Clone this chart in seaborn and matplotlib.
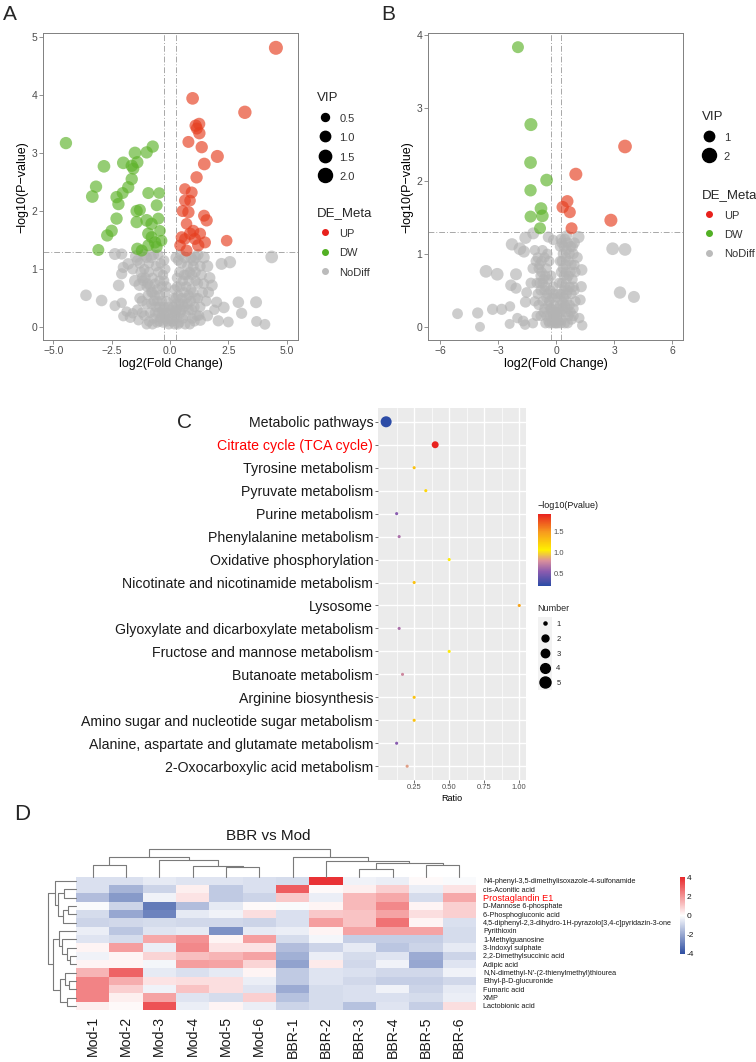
import numpy as np
import pandas as pd
import matplotlib
matplotlib.use("Agg")
import matplotlib.pyplot as plt
import seaborn as sns
from matplotlib.colors import LinearSegmentedColormap, Normalize
from matplotlib.cm import ScalarMappable
from matplotlib.lines import Line2D
from matplotlib.patches import Rectangle

# ---------------- data: panel A (log2FC, -log10 P, VIP) ----------------
a_up = [(4.54, 4.81, 2.0), (0.97, 3.94, 1.6), (3.21, 3.70, 1.8), (1.10, 3.47, 1.5), (1.25, 3.50, 1.5),
        (1.15, 3.42, 1.4), (1.26, 3.34, 1.5), (0.79, 3.19, 1.4), (1.36, 3.10, 1.5), (2.03, 2.94, 1.7),
        (1.47, 2.81, 1.6), (1.14, 2.58, 1.5), (0.64, 2.38, 1.3), (0.93, 2.32, 1.4), (0.64, 2.18, 1.4),
        (0.86, 2.18, 1.3), (0.54, 2.00, 1.4), (0.79, 1.98, 1.5), (1.46, 1.92, 1.4), (1.57, 1.84, 1.5),
        (0.71, 1.78, 1.3), (1.00, 1.66, 1.4), (0.86, 1.61, 1.5), (0.50, 1.55, 1.4), (1.29, 1.61, 1.4),
        (1.50, 1.46, 1.4), (2.43, 1.49, 1.3), (0.43, 1.41, 1.3), (0.71, 1.32, 1.4), (1.21, 1.41, 1.5),
        (0.64, 1.52, 1.3), (1.07, 1.52, 1.4)]
a_dw = [(-4.46, 3.17, 1.5), (-2.83, 2.77, 1.6), (-3.17, 2.42, 1.5), (-3.33, 2.25, 1.6), (-2.00, 2.83, 1.6),
        (-1.50, 3.00, 1.6), (-1.00, 3.01, 1.5), (-0.74, 3.11, 1.5), (-1.64, 2.78, 1.5), (-1.40, 2.84, 1.5),
        (-1.57, 2.73, 1.4), (-1.64, 2.55, 1.5), (-1.79, 2.41, 1.5), (-2.03, 2.31, 1.4), (-2.29, 2.24, 1.5),
        (-2.21, 2.12, 1.5), (-1.43, 2.00, 1.5), (-1.29, 2.02, 1.4), (-0.93, 2.31, 1.4), (-0.46, 2.31, 1.3),
        (-0.57, 2.10, 1.4), (-2.29, 1.87, 1.5), (-2.50, 1.66, 1.5), (-2.69, 1.58, 1.5), (-3.07, 1.33, 1.4),
        (-1.43, 1.81, 1.5), (-1.00, 1.84, 1.6), (-0.79, 1.78, 1.5), (-0.50, 1.87, 1.4), (-0.93, 1.61, 1.5),
        (-0.43, 1.66, 1.3), (-0.79, 1.55, 1.4), (-0.64, 1.46, 1.5), (-0.36, 1.49, 1.3), (-1.40, 1.35, 1.5),
        (-1.21, 1.32, 1.4), (-0.57, 1.38, 1.4), (-0.93, 1.41, 1.4)]
a_nd = [(4.36, 1.21, 1.6), (-3.60, 0.55, 1.3), (-2.93, 0.46, 1.3), (3.69, 0.43, 1.4), (2.93, 0.43, 1.3),
        (3.07, 0.24, 1.2), (3.71, 0.10, 1.1), (4.07, 0.05, 1.1), (2.50, 0.09, 1.1), (2.07, 0.11, 1.2),
        (2.57, 1.12, 1.5), (2.21, 1.09, 1.4), (2.31, 0.34, 1.3), (2.00, 0.43, 1.2), (-2.36, 1.26, 1.4),
        (-2.07, 1.26, 1.2), (-1.79, 1.09, 1.3), (-2.00, 1.03, 1.2), (-2.07, 0.92, 1.2), (-2.20, 0.72, 1.3),
        (-2.36, 0.37, 1.1), (-2.07, 0.42, 1.0), (-1.86, 0.27, 1.0), (-1.60, 0.24, 1.0), (-1.70, 0.17, 1.2),
        (-1.35, 0.12, 1.0), (-2.00, 0.19, 1.0), (-1.50, 0.80, 1.4), (-1.30, 0.73, 1.5), (-1.20, 0.45, 1.1),
        (-1.00, 0.40, 1.0), (-1.10, 0.20, 1.0), (-0.95, 0.55, 1.0), (1.60, 1.05, 1.4), (1.70, 0.85, 1.3),
        (1.80, 0.72, 1.3), (1.65, 0.60, 1.2), (1.55, 0.45, 1.1), (1.30, 0.35, 1.0), (1.60, 0.20, 1.3),
        (1.30, 0.12, 1.2), (1.15, 0.20, 1.1), (1.90, 0.30, 1.0), (1.45, 1.20, 1.4), (1.00, 1.15, 1.2),
        (0.65, 1.20, 1.3), (-0.80, 1.20, 1.2), (-1.10, 1.25, 1.3), (-1.45, 1.22, 1.5), (-1.60, 1.00, 1.1),
        (-0.50, 1.25, 1.0), (-1.30, 1.10, 1.1), (-1.10, 1.00, 1.0), (-0.90, 0.95, 1.0), (-0.75, 0.85, 1.0),
        (-0.65, 0.75, 1.0), (-0.55, 0.65, 1.0), (-0.45, 0.55, 1.0), (-0.35, 0.45, 1.0), (-0.25, 0.35, 1.0),
        (-0.15, 0.25, 1.0), (-0.60, 1.05, 1.0), (-0.40, 1.10, 1.0), (-0.30, 0.90, 1.0), (-0.35, 0.70, 1.0),
        (-0.20, 0.60, 1.0), (-0.15, 0.45, 1.0), (-0.80, 0.60, 1.0), (-0.70, 0.45, 1.0), (-0.60, 0.35, 1.0),
        (-0.50, 0.25, 1.0), (-0.40, 0.15, 1.0), (-0.30, 0.08, 1.0), (-0.85, 0.25, 1.0), (-0.70, 0.15, 1.0),
        (-0.55, 0.08, 1.0), (-0.20, 0.15, 1.0), (-0.10, 0.10, 1.0), (-0.05, 0.05, 1.0), (-1.20, 0.85, 1.0),
        (-1.00, 0.70, 1.0), (-0.25, 1.15, 1.0), (1.30, 1.05, 1.1), (1.10, 0.95, 1.0), (0.95, 0.90, 1.0),
        (0.80, 0.80, 1.0), (0.70, 0.70, 1.0), (0.60, 0.60, 1.0), (0.50, 0.50, 1.0), (0.40, 0.40, 1.0),
        (0.30, 0.30, 1.0), (0.20, 0.20, 1.0), (0.10, 0.10, 1.0), (0.35, 1.15, 1.0), (0.40, 0.95, 1.0),
        (0.30, 0.70, 1.0), (0.25, 0.50, 1.0), (0.50, 1.10, 1.0), (0.60, 0.90, 1.0), (0.75, 1.05, 1.1),
        (0.90, 1.20, 1.2), (1.10, 1.20, 1.2), (1.20, 0.75, 1.0), (1.00, 0.60, 1.0), (0.90, 0.45, 1.0),
        (0.80, 0.30, 1.0), (0.70, 0.20, 1.0), (0.55, 0.15, 1.0), (0.40, 0.08, 1.0), (1.05, 0.35, 1.0),
        (0.95, 0.15, 1.0), (0.20, 0.05, 1.0), (0.60, 0.35, 1.0), (0.45, 0.25, 1.0), (0.30, 0.15, 1.0),
        (0.15, 0.35, 1.0), (0.80, 0.55, 1.0), (1.20, 0.50, 1.0), (0.10, 0.25, 1.0), (0.00, 0.15, 1.0),
        (0.05, 0.30, 1.0), (-0.05, 0.35, 1.0),
        (-1.40, 1.15, 1.1), (-1.25, 0.95, 1.1), (-1.15, 0.80, 1.0), (-1.05, 0.85, 1.0), (-0.95, 0.75, 1.0),
        (-0.85, 0.70, 1.0), (-0.75, 0.60, 1.0), (-0.65, 0.55, 1.0), (-0.55, 0.45, 1.0), (-0.45, 0.35, 1.0),
        (-0.35, 0.25, 1.0), (-0.25, 0.20, 1.0), (-0.90, 0.10, 1.0), (-0.80, 0.40, 1.0), (-0.65, 0.25, 1.0),
        (-0.45, 0.10, 1.0), (-0.30, 0.30, 1.0), (-1.00, 1.20, 1.1), (-0.70, 1.25, 1.1), (-0.90, 1.10, 1.0),
        (-0.50, 0.95, 1.0), (-0.45, 0.80, 1.0), (-0.25, 0.80, 1.0), (-0.20, 1.00, 1.0), (-0.15, 0.70, 1.0),
        (-1.30, 0.50, 1.1), (-1.40, 0.30, 1.1), (-1.20, 0.25, 1.0), (-1.00, 0.05, 1.0), (-0.75, 0.05, 1.0),
        (0.25, 1.20, 1.1), (0.45, 1.25, 1.1), (0.30, 0.85, 1.0), (0.20, 0.65, 1.0), (0.35, 0.55, 1.0),
        (0.45, 0.70, 1.0), (0.55, 0.80, 1.0), (0.70, 0.90, 1.0), (0.85, 0.95, 1.0), (1.00, 1.05, 1.1),
        (1.20, 1.25, 1.2), (1.35, 0.90, 1.1), (1.10, 0.80, 1.0), (0.90, 0.65, 1.0), (0.70, 0.50, 1.0),
        (0.55, 0.40, 1.0), (0.75, 0.40, 1.0), (0.95, 0.30, 1.0), (1.10, 0.50, 1.0), (0.65, 0.05, 1.0),
        (0.85, 0.05, 1.0), (1.05, 0.10, 1.0), (0.25, 0.40, 1.0), (0.15, 0.50, 1.0), (0.35, 0.05, 1.0),
        (0.50, 0.30, 1.0), (0.25, 0.25, 1.0), (1.40, 0.60, 1.1), (1.45, 0.75, 1.1), (1.25, 0.20, 1.0)]

# ---------------- data: panel B ----------------
b_up = [(3.56, 2.47, 1.9), (1.02, 2.09, 1.7), (2.83, 1.46, 1.7), (0.58, 1.72, 1.5), (0.34, 1.64, 1.5),
        (0.71, 1.57, 1.4), (0.80, 1.35, 1.4)]
b_dw = [(-1.97, 3.83, 1.4), (-1.30, 2.77, 1.7), (-1.32, 2.25, 1.6), (-0.49, 2.01, 1.6), (-1.32, 1.87, 1.5),
        (-0.78, 1.62, 1.6), (-1.32, 1.51, 1.4), (-0.71, 1.52, 1.6), (-0.83, 1.35, 1.4)]
b_nd = [(2.92, 1.07, 1.6), (3.56, 1.06, 1.6), (3.30, 0.47, 1.5), (4.02, 0.41, 1.4), (-5.09, 0.18, 1.1),
        (-4.05, 0.19, 1.2), (-3.93, 0.00, 0.9), (-3.62, 0.76, 1.6), (-3.04, 0.72, 1.6), (-3.28, 0.24, 1.2),
        (-2.81, 0.24, 1.2), (-2.38, 0.28, 1.0), (-2.28, 1.13, 1.5), (-1.87, 1.07, 1.6), (-1.66, 1.03, 1.4),
        (-1.58, 1.22, 1.5), (-1.18, 1.28, 1.4), (-2.07, 0.72, 1.4), (-2.33, 0.57, 1.3), (-2.07, 0.53, 1.2),
        (-1.52, 0.47, 1.1), (-1.58, 0.34, 1.2), (-2.40, 0.04, 0.9), (-1.70, 0.08, 1.1), (-1.60, 0.03, 1.0),
        (-0.40, 1.23, 1.2), (-0.15, 1.19, 1.0), (1.15, 1.23, 1.5), (1.32, 0.78, 1.3), (1.30, 0.55, 1.2),
        (1.25, 0.37, 1.1), (1.20, 0.12, 1.0), (1.35, 0.02, 1.0), (1.10, 0.95, 1.1), (-1.30, 0.60, 1.1),
        (-1.00, 0.15, 1.0), (-1.20, 0.05, 1.0), (-2.00, 0.12, 1.0), (-1.10, 1.05, 1.0), (-0.95, 0.95, 1.0),
        (-0.85, 0.85, 1.0), (-0.75, 0.75, 1.0), (-0.65, 0.65, 1.0), (-0.55, 0.55, 1.0), (-0.45, 0.45, 1.0),
        (-0.35, 0.35, 1.0), (-0.25, 0.25, 1.0), (-0.15, 0.15, 1.0), (-0.05, 0.05, 1.0), (-0.60, 0.95, 1.0),
        (-0.50, 0.80, 1.0), (-0.40, 0.65, 1.0), (-0.30, 0.50, 1.0), (-0.20, 0.40, 1.0), (-0.80, 0.50, 1.0),
        (-0.70, 0.35, 1.0), (-0.60, 0.25, 1.0), (-0.50, 0.15, 1.0), (-0.40, 0.08, 1.0), (-0.90, 0.30, 1.0),
        (-0.80, 0.15, 1.0), (-0.30, 0.15, 1.0), (-0.20, 0.05, 1.0), (-0.70, 1.05, 1.0), (-0.35, 0.90, 1.0),
        (-1.00, 0.60, 1.0), (0.30, 1.15, 1.1), (0.45, 1.20, 1.1), (0.60, 1.15, 1.1), (0.75, 1.10, 1.1),
        (0.90, 1.00, 1.0), (0.35, 1.00, 1.0), (0.50, 0.95, 1.0), (0.65, 0.90, 1.0), (0.80, 0.85, 1.0),
        (0.35, 0.80, 1.0), (0.50, 0.75, 1.0), (0.65, 0.70, 1.0), (0.85, 0.65, 1.0), (0.30, 0.60, 1.0),
        (0.45, 0.55, 1.0), (0.60, 0.50, 1.0), (0.80, 0.45, 1.0), (0.25, 0.45, 1.0), (0.40, 0.40, 1.0),
        (0.55, 0.35, 1.0), (0.70, 0.30, 1.0), (0.90, 0.25, 1.0), (0.20, 0.30, 1.0), (0.35, 0.25, 1.0),
        (0.50, 0.20, 1.0), (0.65, 0.15, 1.0), (0.80, 0.10, 1.0), (0.15, 0.15, 1.0), (0.30, 0.10, 1.0),
        (0.45, 0.05, 1.0), (0.10, 0.05, 1.0), (0.00, 0.20, 1.0), (-0.10, 0.30, 1.0), (0.05, 0.40, 1.0),
        (0.95, 0.50, 1.0), (1.00, 0.75, 1.0), (0.20, 0.90, 1.0), (0.20, 1.10, 1.0),
        (-1.05, 0.90, 1.0), (-0.90, 0.80, 1.0), (-0.80, 0.70, 1.0), (-0.70, 0.60, 1.0), (-0.60, 0.50, 1.0),
        (-0.50, 0.40, 1.0), (-0.40, 0.30, 1.0), (-0.30, 0.25, 1.0), (-0.20, 0.20, 1.0), (-0.10, 0.10, 1.0),
        (-0.95, 0.45, 1.0), (-0.85, 0.60, 1.0), (-0.75, 0.90, 1.0), (-0.55, 0.70, 1.0), (-0.45, 1.00, 1.0),
        (-0.65, 0.20, 1.0), (-0.55, 0.05, 1.0), (-0.35, 0.05, 1.0), (-1.10, 0.35, 1.0), (-1.20, 0.80, 1.1),
        (-0.25, 0.70, 1.0), (-0.15, 0.55, 1.0), (-0.10, 0.45, 1.0),
        (0.25, 1.20, 1.1), (0.40, 1.10, 1.0), (0.55, 1.05, 1.0), (0.70, 1.00, 1.0), (0.85, 1.10, 1.1),
        (0.95, 0.85, 1.0), (0.75, 0.75, 1.0), (0.55, 0.65, 1.0), (0.40, 0.70, 1.0), (0.25, 0.75, 1.0),
        (0.30, 0.90, 1.0), (0.50, 0.85, 1.0), (0.70, 0.55, 1.0), (0.90, 0.55, 1.0), (0.40, 0.50, 1.0),
        (0.55, 0.45, 1.0), (0.75, 0.20, 1.0), (0.60, 0.25, 1.0), (0.45, 0.30, 1.0), (0.30, 0.35, 1.0),
        (0.20, 0.20, 1.0), (0.10, 0.25, 1.0), (0.05, 0.10, 1.0), (0.25, 0.05, 1.0), (0.60, 0.05, 1.0),
        (0.90, 0.15, 1.0), (1.00, 0.35, 1.0), (0.15, 0.60, 1.0), (0.10, 0.45, 1.0), (0.00, 0.05, 1.0),
        (-0.05, 0.20, 1.0), (0.95, 1.15, 1.1), (0.55, 1.25, 1.1)]

# ---------------- data: panel C ----------------
pathways = ["Metabolic pathways", "Citrate cycle (TCA cycle)", "Tyrosine metabolism", "Pyruvate metabolism",
            "Purine metabolism", "Phenylalanine metabolism", "Oxidative phosphorylation",
            "Nicotinate and nicotinamide metabolism", "Lysosome", "Glyoxylate and dicarboxylate metabolism",
            "Fructose and mannose metabolism", "Butanoate metabolism", "Arginine biosynthesis",
            "Amino sugar and nucleotide sugar metabolism", "Alanine, aspartate and glutamate metabolism",
            "2-Oxocarboxylic acid metabolism"]
ratio = [0.05, 0.40, 0.25, 0.333, 0.125, 0.143, 0.50, 0.25, 1.00, 0.143, 0.50, 0.167, 0.25, 0.25, 0.125, 0.20]
c_logp = [0.21, 1.93, 1.30, 1.20, 0.55, 0.66, 1.05, 1.30, 1.45, 0.66, 1.05, 0.78, 1.30, 1.30, 0.55, 0.85]
number = [5, 2, 1, 1, 1, 1, 1, 1, 1, 1, 1, 1, 1, 1, 1, 1]

# ---------------- data: panel D ----------------
samples = ["Mod-1", "Mod-2", "Mod-3", "Mod-4", "Mod-5", "Mod-6",
           "BBR-1", "BBR-2", "BBR-3", "BBR-4", "BBR-5", "BBR-6"]
metabolites = ["N4-phenyl-3,5-dimethylisoxazole-4-sulfonamide", "cis-Aconitic acid", "Prostaglandin E1",
               "D-Mannose 6-phosphate", "6-Phosphogluconic acid",
               "4,5-diphenyl-2,3-dihydro-1H-pyrazolo[3,4-c]pyridazin-3-one", "Pyrithioxin",
               "1-Methylguanosine", "3-Indoxyl sulphate", "2,2-Dimethylsuccinic acid", "Adipic acid",
               "N,N-dimethyl-N'-(2-thienylmethyl)thiourea", "Ethyl-\u03b2-D-glucuronide", "Fumaric acid",
               "XMP", "Lactobionic acid"]
zscores = [
    [-0.7, -0.7, -0.5, -0.6, -0.6, -0.7, -0.8, 3.8, -0.3, -0.4, 0.1, -0.1],
    [-0.7, -1.7, -1.0, 0.3, -1.2, -0.7, 3.0, 0.1, 0.3, 0.9, -0.4, 0.5],
    [-1.5, -2.3, -0.3, 0.5, -1.2, -1.0, 1.0, -0.4, 1.3, 1.6, -0.8, 1.6],
    [-0.1, -1.0, -3.0, -1.5, -0.5, 0.1, -0.1, 0.2, 1.3, 2.2, 0.2, 0.9],
    [-0.8, -2.0, -2.8, -0.5, -0.3, 0.6, -0.7, 1.0, 1.1, 1.7, 0.6, 0.9],
    [-1.0, -0.9, -0.8, -0.9, -0.9, -1.0, -0.7, 1.8, 1.1, 2.6, 0.2, -0.7],
    [-0.4, -1.3, -0.6, -0.5, -2.5, -0.5, -0.4, 0.2, 1.7, 1.7, 1.7, -0.8],
    [-0.6, -0.8, 1.6, 2.0, 0.2, 1.8, -0.8, -0.2, -1.1, -1.1, -1.1, -0.8],
    [0.2, 1.8, -0.4, 2.2, 0.5, 0.5, -1.5, -1.0, -0.5, -1.3, -1.0, -0.5],
    [-0.3, 0.2, 0.8, 1.2, 1.4, 1.7, -1.8, -0.4, -0.8, -0.6, -1.9, -1.0],
    [0.2, 0.2, -0.2, 1.8, 1.7, 0.8, -2.1, 0.4, -0.9, -0.3, -2.0, -0.6],
    [1.4, 2.9, -0.5, -0.7, -0.5, 0.2, -1.2, -0.6, -0.7, -0.9, -0.9, -0.3],
    [2.3, 1.5, 0.5, 0.6, 0.6, -0.4, -1.2, -0.6, -0.9, -1.1, -1.1, -0.9],
    [2.3, 0.9, -0.3, 1.1, 0.6, -0.6, -1.9, -0.8, -0.7, -0.3, -1.0, -0.5],
    [2.3, 0.3, 1.7, -0.6, -0.8, 0.9, -1.4, -0.8, -0.7, -0.7, -0.8, -0.4],
    [0.3, 0.1, 3.2, -0.4, 0.2, -0.4, -1.0, -0.8, -1.4, -0.6, -1.1, 0.6],
]
# dendrogram trees: (left, right, merge height); leaves are positions
col_tree = (((0, 1, 11.3), (2, (3, (4, 5, 9.3), 11.0), 16.7), 19.7),
            (6, (7, ((8, 9, 7.7), (10, 11, 12.0), 13.7), 15.3), 19.7), 27.7)
row_tree = ((0, ((1, 2, 12.0), ((3, 4, 7.7), 5, 12.7), 17.7), 21.0),
            ((6, (7, (8, (9, 10, 6.0), 9.0), 14.3), 17.0),
             ((11, (12, 13, 7.0), 11.0), (14, 15, 9.0), 16.0), 22.7), 27.7)

# ---------------- setup ----------------
sns.set_theme(style="white")
plt.rcParams['font.family'] = ['Liberation Sans', 'DejaVu Sans']
W, H = 756, 1062
fig = plt.figure(figsize=(W / 100, H / 100), dpi=100)


def box(l, t, r, b):
    return [l / W, 1 - b / H, (r - l) / W, (b - t) / H]


def fx(p):
    return p / W


def fy(p):
    return 1 - p / H


pal = {"UP": "#E63E1F", "DW": "#5DB229", "NoDiff": "#B3B3B3"}
leg_col = {"UP": "#E8211C", "DW": "#52B024", "NoDiff": "#BBBBBB"}
GRAYTXT = "#4D4D4D"


def volcano_df(nd, dw, up):
    rows = []
    for lab, pts in (("NoDiff", nd), ("DW", dw), ("UP", up)):
        for x, y, v in pts:
            rows.append({"log2FC": x, "logP": y, "VIP": v, "DE": lab})
    return pd.DataFrame(rows)


def size_of(v):
    return 33 + (v - 0.5) / 1.5 * 69


def volcano(ax, df, xlim, ylim, xticks, yticks, xtlabels, vip_levels, vip_labels, leg_x, vip_top, de_top):
    sns.scatterplot(data=df, x="log2FC", y="logP", hue="DE", size="VIP", palette=pal,
                    sizes=(33, 102), size_norm=(0.5, 2.0), alpha=0.65, linewidth=0,
                    legend=False, ax=ax)
    dash = (0, (6, 2, 1, 2))
    ax.axhline(-np.log10(0.05), color="#A8A8A8", lw=0.7, ls=dash, zorder=0)
    for v in (-np.log2(1.2), np.log2(1.2)):
        ax.axvline(v, color="#A8A8A8", lw=0.7, ls=dash, zorder=0)
    ax.set_xlim(*xlim)
    ax.set_ylim(*ylim)
    ax.set_xticks(xticks)
    ax.set_xticklabels(xtlabels)
    ax.set_yticks(yticks)
    ax.set_xlabel("log2(Fold Change)", fontsize=9, color="black", labelpad=1)
    ax.set_ylabel("\u2212log10(P\u2212value)", fontsize=9, color="black", labelpad=2)
    for s in ax.spines.values():
        s.set_color("#808080")
        s.set_linewidth(0.7)
    ax.tick_params(axis="both", which="major", direction="out", length=3, width=0.6,
                   color="#808080", labelcolor=GRAYTXT, labelsize=7.5, pad=1.5,
                   bottom=True, left=True)
    common = dict(frameon=False, fontsize=8, title_fontsize=9.5, labelspacing=0.72,
                  handletextpad=0.6, borderpad=0, borderaxespad=0, alignment="left",
                  handlelength=1.4, handleheight=1.2, loc="upper left")
    vh = [Line2D([], [], ls="", marker="o", color="black", markersize=np.sqrt(size_of(v)))
          for v in vip_levels]
    leg1 = ax.legend(vh, vip_labels, title="VIP", bbox_to_anchor=(leg_x, vip_top), **common)
    for t in leg1.get_texts():
        t.set_color("#333333")
    ax.add_artist(leg1)
    dh = [Line2D([], [], ls="", marker="o", color=leg_col[k], markersize=4)
          for k in ("UP", "DW", "NoDiff")]
    leg2 = ax.legend(dh, ["UP", "DW", "NoDiff"], title="DE_Meta", bbox_to_anchor=(leg_x, de_top), **common)
    for t in leg2.get_texts():
        t.set_color("#333333")


# ---------------- panel A ----------------
axA = fig.add_axes(box(43.3, 33.3, 298.3, 340))
volcano(axA, volcano_df(a_nd, a_dw, a_up), (-5.43, 5.5), (-0.22, 5.06),
        [-5, -2.5, 0, 2.5, 5], [0, 1, 2, 3, 4, 5],
        ["\u22125.0", "\u22122.5", "0.0", "2.5", "5.0"],
        [0.5, 1.0, 1.5, 2.0], ["0.5", "1.0", "1.5", "2.0"], 1.073, 0.808, 0.432)

# ---------------- panel B ----------------
axB = fig.add_axes(box(428.3, 33.3, 683.3, 340))
volcano(axB, volcano_df(b_nd, b_dw, b_up), (-6.6, 6.57), (-0.18, 4.02),
        [-6, -3, 0, 3, 6], [0, 1, 2, 3, 4],
        ["\u22126", "\u22123", "0", "3", "6"],
        [1.0, 2.0], ["1", "2"], 1.072, 0.746, 0.492)

# ---------------- panel C ----------------
cmapC = LinearSegmentedColormap.from_list(
    "kegg", [(0, "#2B4BA6"), (0.2, "#8B5BAF"), (0.35, "#D98F9C"), (0.5, "#FFF000"),
             (0.75, "#F79B1E"), (1, "#E8231F")])
normC = Normalize(0.21, 1.93)
dfC = pd.DataFrame({"Pathway": pathways, "Ratio": ratio, "logP": c_logp, "Number": number})
axC = fig.add_axes(box(378, 408, 526, 780))
axC.set_facecolor("#EBEBEB")
size_map = {1: 5, 2: 25, 3: 37, 4: 49, 5: 63}
sns.scatterplot(data=dfC, x="Ratio", y="Pathway", hue="logP", size="Number", palette=cmapC,
                hue_norm=normC, sizes=size_map, linewidth=0, legend=False, ax=axC, zorder=3)
axC.set_ylim(len(pathways) - 1 + 0.6, -0.6)
axC.set_xlim(-0.008, 1.048)
axC.set_xticks([0.25, 0.5, 0.75, 1.0])
axC.set_xticklabels(["0.25", "0.50", "0.75", "1.00"])
axC.set_xticks([0.125, 0.375, 0.625, 0.875], minor=True)
axC.grid(True, which="major", color="white", lw=1.0)
axC.grid(True, which="minor", axis="x", color="white", lw=0.5)
axC.set_axisbelow(True)
for s in axC.spines.values():
    s.set_visible(False)
axC.tick_params(axis="both", which="major", direction="out", length=2, width=0.5, color="#333333",
                bottom=True, left=True)
axC.tick_params(axis="x", which="major", labelsize=5.5, labelcolor=GRAYTXT, pad=1)
axC.tick_params(axis="y", which="major", labelsize=10.2, labelcolor="#1A1A1A", pad=1.5)
axC.tick_params(axis="x", which="minor", length=0)
for t in axC.get_yticklabels():
    if t.get_text().startswith("Citrate"):
        t.set_color("#FF0000")
axC.set_xlabel("Ratio", fontsize=6.5, color="black", labelpad=2)
axC.set_ylabel("")

caxC = fig.add_axes(box(538, 514, 551, 586))
cbC = fig.colorbar(ScalarMappable(norm=normC, cmap=cmapC), cax=caxC)
cbC.outline.set_visible(False)
cbC.set_ticks([0.5, 1.0, 1.5])
cbC.set_ticklabels(["0.5", "1.0", "1.5"])
caxC.tick_params(direction="in", length=3, width=0.6, color="white", labelsize=5.5,
                 labelcolor=GRAYTXT, pad=2)
fig.text(fx(537), fy(505), "\u2212log10(Pvalue)", fontsize=6.5, ha="left", va="center", color="#1A1A1A")

fig.add_artist(Rectangle((fx(538), fy(690)), 14 / W, 73 / H, transform=fig.transFigure,
                         facecolor="#F2F2F2", edgecolor="none", zorder=-1))
nh = [Line2D([], [], ls="", marker="o", color="black", markersize=np.sqrt(size_map[k]))
      for k in (1, 2, 3, 4, 5)]
legN = axC.legend(nh, ["1", "2", "3", "4", "5"], title="Number", loc="upper left",
                  bbox_to_anchor=(fx(541), fy(604)), bbox_transform=fig.transFigure,
                  frameon=False, fontsize=5.5, title_fontsize=6.5, labelspacing=0.98,
                  handletextpad=1.0, handlelength=1.0, borderpad=0, borderaxespad=0, alignment="left")
legN.get_title().set_position((-4, 0))

# ---------------- panel D ----------------
cmapD = LinearSegmentedColormap.from_list("bwr2", ["#2F4FA2", "#FFFFFF", "#E8282B"])
dfD = pd.DataFrame(zscores, index=metabolites, columns=samples)
axH = fig.add_axes(box(76, 876.7, 476, 1010))
caxD = fig.add_axes(box(680, 877, 685, 954))
sns.heatmap(dfD, cmap=cmapD, vmin=-4, vmax=4, ax=axH, cbar_ax=caxD, xticklabels=True,
            yticklabels=True, cbar_kws={"ticks": [-4, -2, 0, 2, 4]})
axH.yaxis.tick_right()
axH.tick_params(axis="y", length=0, pad=5, labelsize=5.2, labelcolor="#1A1A1A")
axH.tick_params(axis="x", length=0, pad=4.5, labelsize=10.2, labelcolor="#1A1A1A")
for t in axH.get_yticklabels():
    t.set_rotation(0)
    t.set_ha("left")
    if t.get_text() == "Prostaglandin E1":
        t.set_color("#FF0000")
        t.set_fontsize(6.6)
for t in axH.get_xticklabels():
    t.set_rotation(90)
axH.set_xlabel("")
axH.set_ylabel("")
caxD.tick_params(length=0, labelsize=6, labelcolor="#1A1A1A", pad=1.5)
cbD = axH.collections[0].colorbar
cbD.outline.set_visible(False)
cbD.set_ticklabels(["-4", "-2", "0", "2", "4"])

DCOL = "#7A7A7A"


def draw_tree(ax, node, orient):
    if isinstance(node, int):
        return node + 0.5, 0.0
    left, right, h = node
    pl, hl = draw_tree(ax, left, orient)
    pr, hr = draw_tree(ax, right, orient)
    if orient == "top":
        ax.plot([pl, pl, pr, pr], [hl, h, h, hr], color=DCOL, lw=0.8, clip_on=False)
    else:
        ax.plot([hl, h, h, hr], [pl, pl, pr, pr], color=DCOL, lw=0.8, clip_on=False)
    return (pl + pr) / 2, h


axCD = fig.add_axes(box(76, 849, 476, 876.7))
draw_tree(axCD, col_tree, "top")
axCD.set_xlim(0, len(samples))
axCD.set_ylim(0, 27.7)
axCD.axis("off")

axRD = fig.add_axes(box(48.3, 876.7, 76, 1010))
draw_tree(axRD, row_tree, "left")
axRD.set_ylim(len(metabolites), 0)
axRD.set_xlim(27.7, 0)
axRD.axis("off")

fig.text(fx(268), fy(836), "BBR vs Mod", fontsize=11, ha="center", va="center", color="#1A1A1A")

# ---------------- panel letters ----------------
fig.text(fx(3), fy(15), "A", fontsize=15, ha="left", va="center")
fig.text(fx(381), fy(15), "B", fontsize=15, ha="left", va="center")
fig.text(fx(177), fy(423), "C", fontsize=15, ha="left", va="center")
fig.text(fx(14), fy(815), "D", fontsize=16, ha="left", va="center")

fig.savefig("out.png", dpi=100)
